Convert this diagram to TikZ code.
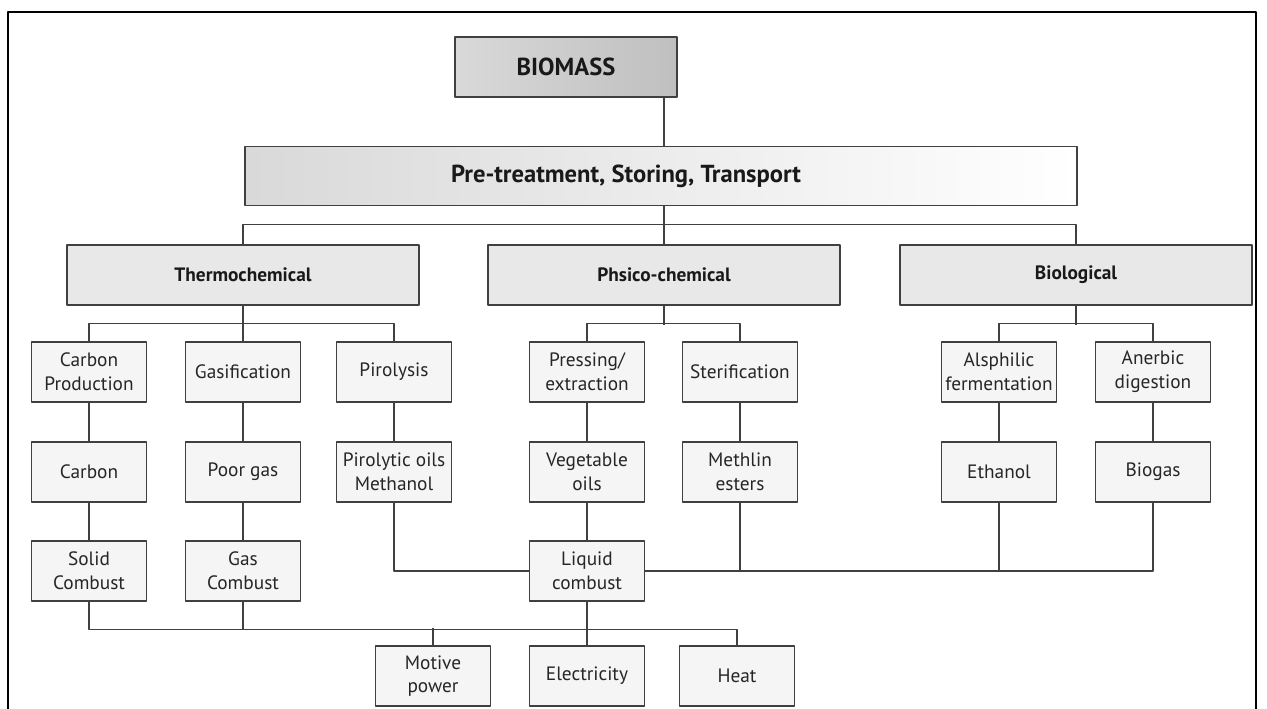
\documentclass[tikz,border=0pt]{standalone}
\usepackage{fontspec}
\setmainfont{PT Sans}
\begin{document}
\begin{tikzpicture}[x=0.02cm,y=-0.02cm,line join=bevel,
  small_box/.style={draw=black!75,line width=0.9pt,fill=gray!8,minimum width=2.3cm,minimum height=1.2cm,inner sep=1pt,align=center,text=black!85,font=\fontsize{11}{13.5}\selectfont},
  cat_box/.style={draw=black!75,line width=0.9pt,fill=gray!18,minimum width=7.04cm,minimum height=1.2cm,text=black!90,font=\bfseries\fontsize{11}{13}\selectfont},
  link/.style={draw=black!75,line width=0.8pt}]
%%
 \useasboundingbox (0,0) rectangle (1267,709);
 \draw [black,line width=1.4pt] (8,709) -- (8,12) -- (1256,12) -- (1256,709);
%
 \node (biomass) at (566,67) [draw=black!75,line width=0.9pt,left color=gray!30,right color=gray!50,minimum width=4.44cm,minimum height=1.2cm,text=black!90,font=\bfseries\fontsize{14}{16}\selectfont] {BIOMASS};
 \node (pre_treat) at (661,176) [draw=black!75,line width=0.9pt,left color=gray!30,right color=white,minimum width=16.64cm,minimum height=1.18cm,text=black!90,font=\bfseries\fontsize{14}{16}\selectfont] {Pre-treatment, Storing, Transport\hspace*{1.4cm}};
%
 \node (thermo_chem) at (243,275) [cat_box] {Thermochemical};
 \node (phys_chem) at (664,275) [cat_box] {Phsico-chemical};
 \node (bio_chem) at (1076,275) [cat_box] {Biological};
%
 \node (carbon_prod) at (89,372) [small_box] {Carbon\\Production};
 \node (gasification) at (243,372) [small_box] {Gasification};
 \node (pirolysis) at (394,372) [small_box] {Pirolysis};
 \node (pressing) at (587,372) [small_box] {Pressing/\\extraction};
 \node (sterification) at (740,372) [small_box] {Sterification};
 \node (alsphilic) at (999,372) [small_box] {Alsphilic\\fermentation};
 \node (anerbic) at (1153,372) [small_box] {Anerbic\\digestion};
%
 \node (carbon) at (89,472) [small_box] {Carbon};
 \node (poor_gas) at (243,472) [small_box] {Poor gas};
 \node (pirolytic) at (394,472) [small_box] {Pirolytic oils\\Methanol};
 \node (veg_oils) at (587,472) [small_box] {Vegetable\\oils};
 \node (methlin) at (740,472) [small_box] {Methlin\\esters};
 \node (ethanol) at (999,472) [small_box] {Ethanol};
 \node (biogas) at (1153,472) [small_box] {Biogas};
%
 \node (solid) at (89,571) [small_box] {Solid\\Combust};
 \node (gas_comb) at (243,571) [small_box] {Gas\\Combust};
 \node (liquid) at (587,571) [small_box] {Liquid\\combust};
%
 \node (motive) at (433,676) [small_box] {Motive\\power};
 \node (electricity) at (587,676) [small_box] {Electricity};
 \node (heat) at (737,676) [small_box] {Heat};
%
  \draw [link] (biomass.south -| phys_chem.north) -- (pre_treat.north -| phys_chem.north);
  \draw [link] (pre_treat.south -| phys_chem.north) -- (phys_chem.north);
  \draw [link] (thermo_chem.north) -- ++(0,-20) -| (bio_chem.north);
%
  \draw [link] (thermo_chem.south) -- ++(0,19);
  \draw [link] (carbon_prod.north) -- ++(0,-18) -| (pirolysis.north);
  \draw [link] (gasification.north) -- ++(0,-18);
  \draw [link] (phys_chem.south) -- ++(0,19);
  \draw [link] (pressing.north) -- ++(0,-18) -| (sterification.north);
  \draw [link] (bio_chem.south) -- ++(0,19);
  \draw [link] (alsphilic.north) -- ++(0,-18) -| (anerbic.north);
%
  \draw [link] (carbon_prod) -- (carbon);
  \draw [link] (carbon) -- (solid);
  \draw [link] (gasification) -- (poor_gas);
  \draw [link] (poor_gas) -- (gas_comb);
  \draw [link] (pirolysis) -- (pirolytic);
  \draw [link] (pressing) -- (veg_oils);
  \draw [link] (veg_oils) -- (liquid);
  \draw [link] (sterification) -- (methlin);
  \draw [link] (alsphilic) -- (ethanol);
  \draw [link] (anerbic) -- (biogas);
%
  \draw [link] (pirolytic.south) |- (liquid.west);
  \draw [link] (liquid.east) -| (biogas.south);
  \draw [link] (methlin.south) -- (methlin.south |- liquid.east);
  \draw [link] (ethanol.south) -- (ethanol.south |- liquid.east);
%
  \draw [link] (solid.south) -- ++(0,28) -| (heat.north);
  \draw [link] (gas_comb.south) -- ++(0,28);
  \draw [link] (motive.north) -- ++(0,-17);
  \draw [link] (liquid) -- (electricity);
%
\end{tikzpicture}
\end{document}
